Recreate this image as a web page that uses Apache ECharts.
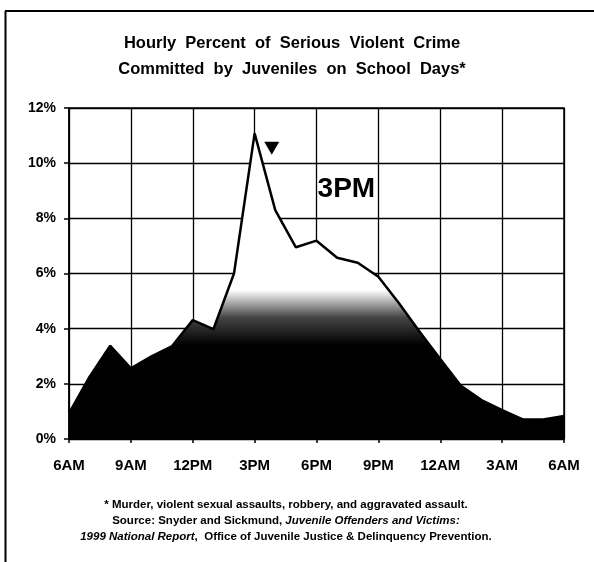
<!DOCTYPE html>
<html>
<head>
<meta charset="utf-8">
<script src="https://cdn.jsdelivr.net/npm/echarts@6/dist/echarts.min.js"></script>
<style>
  html, body { margin: 0; padding: 0; background: #fff; }
  #chart { width: 594px; height: 562px; }
</style>
</head>
<body>
<div id="chart"></div>
<script>
// hours after 6AM, one point per hour
const hours = [0, 1, 2, 3, 4, 5, 6, 7, 8, 9, 10, 11, 12, 13, 14, 15, 16, 17, 18, 19, 20, 21, 22, 23, 24]
const crimePct = [0.93, 2.26, 3.38, 2.56, 3.0, 3.37, 4.31, 3.98, 6.0, 11.08, 8.3, 6.95, 7.19,
  6.57, 6.39, 5.88, 4.92, 3.89, 2.9, 1.93, 1.41, 1.05, 0.71, 0.71, 0.83]
const tickLabels = ['6AM', '9AM', '12PM', '3PM', '6PM', '9PM', '12AM', '3AM', '6AM']
const peakMarker = [9.83, 10.54]
const peakLabel = [13.45, 9.07]

const font = 'Liberation Sans, Arial, sans-serif'
const chart = echarts.init(document.getElementById('chart'))

const maxPct = Math.max(...crimePct)
// fade from white to black between ~5.4% and ~3.4%
const fadeTop = (maxPct - 5.4) / maxPct
const fadeBottom = (maxPct - 3.4) / maxPct

const noteStyle = { fontFamily: font, fontSize: 11.5, fontWeight: 'bold', fill: '#000', lineHeight: 16 }

chart.setOption({
  animation: false,
  graphic: [
    { type: 'line', shape: { x1: 5, y1: 11, x2: 594, y2: 11 }, style: { stroke: '#000', lineWidth: 2 } },
    { type: 'line', shape: { x1: 5.5, y1: 11, x2: 5.5, y2: 562 }, style: { stroke: '#000', lineWidth: 2 } },
    {
      type: 'text',
      x: 292,
      y: 30,
      style: {
        text: 'Hourly  Percent  of  Serious  Violent  Crime\nCommitted  by  Juveniles  on  School  Days*',
        align: 'center',
        fontFamily: font,
        fontSize: 16.5,
        fontWeight: 'bold',
        fill: '#000',
        lineHeight: 26
      }
    },
    {
      type: 'text',
      x: 286,
      y: 497,
      style: {
        text: '{n|* Murder, violent sexual assaults, robbery, and aggravated assault.}\n' +
          '{n|Source: Snyder and Sickmund, }{i|Juvenile Offenders and Victims:}\n' +
          '{i|1999 National Report}{n|,  Office of Juvenile Justice & Delinquency Prevention.}',
        align: 'center',
        rich: {
          n: noteStyle,
          i: Object.assign({}, noteStyle, { fontStyle: 'italic' })
        }
      }
    }
  ],
  grid: {
    left: 69,
    right: 30,
    top: 108,
    bottom: 123,
    show: true,
    borderColor: '#000',
    borderWidth: 1.5
  },
  xAxis: {
    type: 'value',
    min: 0,
    max: 24,
    interval: 3,
    axisLine: { lineStyle: { color: '#000', width: 1.5 } },
    axisTick: { show: true, length: 4, lineStyle: { color: '#000', width: 1.5 } },
    axisLabel: {
      margin: 19,
      fontFamily: font,
      fontSize: 15,
      fontWeight: 'bold',
      color: '#000',
      formatter: (v) => tickLabels[v / 3]
    },
    splitLine: { show: true, lineStyle: { color: '#000', width: 1.3 } }
  },
  yAxis: {
    type: 'value',
    min: 0,
    max: 12,
    interval: 2,
    axisLine: { show: true, lineStyle: { color: '#000', width: 1.5 } },
    axisTick: { show: true, length: 5, lineStyle: { color: '#000', width: 1.5 } },
    axisLabel: {
      margin: 13,
      fontFamily: font,
      fontSize: 14,
      fontWeight: 'bold',
      color: '#000',
      formatter: '{value}%'
    },
    splitLine: { show: true, lineStyle: { color: '#000', width: 1.3 } }
  },
  series: [
    {
      type: 'line',
      data: hours.map((h, i) => [h, crimePct[i]]),
      showSymbol: false,
      lineStyle: { color: '#000', width: 2.5 },
      areaStyle: {
        opacity: 1,
        color: new echarts.graphic.LinearGradient(0, 0, 0, 1, [
          { offset: 0, color: '#fff' },
          { offset: fadeTop, color: '#fff' },
          { offset: (fadeTop + fadeBottom) / 2, color: '#444' },
          { offset: fadeBottom, color: '#000' },
          { offset: 1, color: '#000' }
        ])
      },
      markPoint: {
        silent: true,
        data: [
          {
            coord: peakMarker,
            symbol: 'path://M0,0L10,0L5,9Z',
            symbolSize: [15, 13],
            itemStyle: { color: '#000' },
            label: { show: false }
          },
          {
            coord: peakLabel,
            symbol: 'rect',
            symbolSize: 1,
            itemStyle: { color: 'rgba(0,0,0,0)' },
            label: {
              show: true,
              position: 'inside',
              formatter: '3PM',
              fontFamily: font,
              fontSize: 28,
              fontWeight: 'bold',
              color: '#000'
            }
          }
        ]
      }
    }
  ]
})
</script>
</body>
</html>
